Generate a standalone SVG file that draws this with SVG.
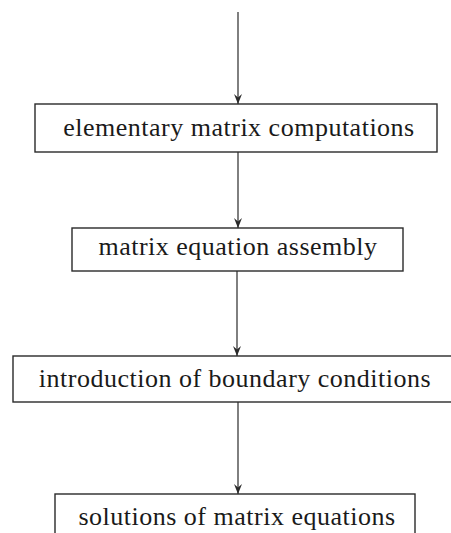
<svg xmlns="http://www.w3.org/2000/svg" width="451" height="533" viewBox="0 0 451 533">
<style>
.box{fill:#fff;stroke:#2a2a2a;stroke-width:1.4}
.lbl{font-family:"Liberation Serif","Times New Roman",serif;font-size:26px;letter-spacing:0.5px;fill:#1a1a1a;text-anchor:middle}
.conn{stroke:#2a2a2a;stroke-width:1.2;fill:none}
</style>
<defs>
<marker id="arr" viewBox="0 0 10 10" refX="10" refY="5" markerWidth="10" markerHeight="10" markerUnits="userSpaceOnUse" orient="auto">
<path d="M0,1 L10,5 L0,9 L3.5,5 Z" fill="#2a2a2a"/>
</marker>
</defs>
<rect width="451" height="533" fill="#fff"/>
<g id="connectors">
<line class="conn" x1="238" y1="12" x2="238" y2="104" marker-end="url(#arr)"/>
<line class="conn" x1="238" y1="152" x2="238" y2="228" marker-end="url(#arr)"/>
<line class="conn" x1="237" y1="271" x2="237" y2="356" marker-end="url(#arr)"/>
<line class="conn" x1="238" y1="402" x2="238" y2="494" marker-end="url(#arr)"/>
</g>
<g id="n1">
<rect class="box" x="35" y="104" width="402" height="48"/>
<text class="lbl" x="239" y="136">elementary matrix computations</text>
</g>
<g id="n2">
<rect class="box" x="72" y="228" width="331" height="43"/>
<text class="lbl" x="238" y="255">matrix equation assembly</text>
</g>
<g id="n3">
<rect class="box" x="13" y="356" width="445" height="46"/>
<text class="lbl" x="235" y="387">introduction of boundary conditions</text>
</g>
<g id="n4">
<rect class="box" x="55" y="494" width="360" height="50"/>
<text class="lbl" x="237" y="525">solutions of matrix equations</text>
</g>
</svg>
